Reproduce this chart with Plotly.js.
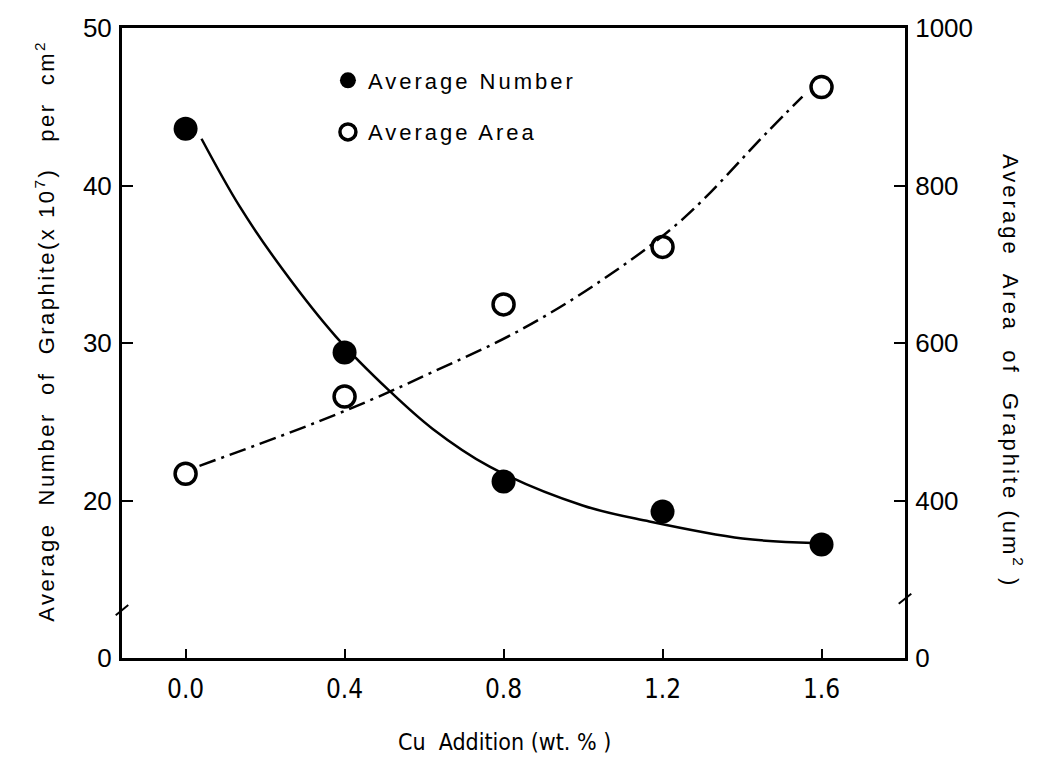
<!DOCTYPE html>
<html>
<head>
<meta charset="utf-8">
<script src="https://cdn.plot.ly/plotly-3.0.1.min.js"></script>
<style>html,body{margin:0;padding:0;background:#fff;}#chart{width:1039px;height:757px;}</style>
</head>
<body>
<div id="chart"></div>
<script>
// Cu addition (wt. %)
const cuAddition = [0.0, 0.4, 0.8, 1.2, 1.6];
// Average number of graphite (x10^7) per cm^2 (left axis, broken below 20)
const avgNumber = [43.6, 29.4, 21.2, 19.3, 17.2];
// Average area of graphite (um^2) (right axis, broken below 400)
const avgArea = [434, 532, 649, 722, 925];

// Hand-drawn trend curves
const numberCurveX = [0.04, 0.136, 0.244, 0.377, 0.513, 0.621, 0.765, 0.999, 1.167, 1.401, 1.58];
const numberCurveY = [42.97, 38.67, 34.68, 30.44, 26.96, 24.56, 22.15, 19.68, 18.67, 17.59, 17.3];
const areaCurveX = [0.035, 0.287, 0.463, 0.621, 0.833, 1.042, 1.250, 1.462, 1.552];
const areaCurveY = [444, 491, 527, 563, 614, 678, 757, 867, 913];

// Axis tick labels (axes are broken: the bottom tick is labelled 0)
const xTickVals = [0.0, 0.4, 0.8, 1.2, 1.6];
const xTickText = ["0.0", "0.4", "0.8", "1.2", "1.6"];
const yLeftTickVals = [10, 20, 30, 40, 50];
const yLeftTickText = ["0", "20", "30", "40", "50"];
const yRightTickVals = [200, 400, 600, 800, 1000];
const yRightTickText = ["0", "400", "600", "800", "1000"];

const FONT = "Liberation Sans, Arial, sans-serif";
const NARROW = "Liberation Sans Narrow, Arial Narrow, DejaVu Sans Condensed, Liberation Sans, sans-serif";
const sp = (t, px) => '<span style="letter-spacing:' + px + 'px">' + t + '</span>';

const traces = [
  {
    x: numberCurveX, y: numberCurveY, yaxis: 'y', mode: 'lines',
    line: {color: '#000', width: 2.5, shape: 'spline', smoothing: 1},
    showlegend: false, hoverinfo: 'skip'
  },
  {
    x: areaCurveX, y: areaCurveY, yaxis: 'y2', mode: 'lines',
    line: {color: '#000', width: 2.5, shape: 'spline', smoothing: 1, dash: '17px,6px,3px,6px'},
    showlegend: false, hoverinfo: 'skip'
  },
  {
    x: cuAddition, y: avgNumber, yaxis: 'y', mode: 'markers', name: sp('Average Number', 3),
    legendgroup: 'a',
    marker: {symbol: 'circle', size: 24, color: '#000'}
  },
  {
    x: cuAddition, y: avgArea, yaxis: 'y2', mode: 'markers', name: sp('Average Area', 3),
    legendgroup: 'b',
    marker: {symbol: 'circle-open', size: 21, color: '#000', line: {color: '#000', width: 3.5}}
  }
];

const layout = {
  width: 1039, height: 757,
  paper_bgcolor: '#fff', plot_bgcolor: '#fff',
  margin: {l: 122, r: 134, t: 28, b: 99},
  font: {family: FONT, color: '#000', size: 20},
  showlegend: true,
  legend: {
    x: 0.263, y: 0.95, xanchor: 'left', yanchor: 'top',
    bgcolor: 'rgba(0,0,0,0)', borderwidth: 0,
    font: {family: FONT, size: 22, color: '#000'},
    tracegroupgap: 20, traceorder: 'grouped', itemwidth: 30
  },
  xaxis: {
    range: [-0.16, 1.81],
    tickvals: xTickVals, ticktext: xTickText,
    ticks: 'inside', ticklen: 9, tickwidth: 2, tickcolor: '#000',
    showline: true, linewidth: 3, linecolor: '#000', mirror: true,
    showgrid: false, zeroline: false,
    tickfont: {family: NARROW, size: 26},
    ticklabelstandoff: 6
  },
  yaxis: {
    range: [10, 50],
    tickvals: yLeftTickVals, ticktext: yLeftTickText,
    ticks: 'inside', ticklen: 11, tickwidth: 2, tickcolor: '#000',
    showline: true, linewidth: 3, linecolor: '#000',
    showgrid: false, zeroline: false,
    tickfont: {family: FONT, size: 26},
    ticklabelstandoff: 2
  },
  yaxis2: {
    range: [200, 1000], overlaying: 'y', side: 'right',
    tickvals: yRightTickVals, ticktext: yRightTickText,
    ticks: 'inside', ticklen: 11, tickwidth: 2, tickcolor: '#000',
    showline: true, linewidth: 3, linecolor: '#000',
    showgrid: false, zeroline: false,
    tickfont: {family: FONT, size: 26},
    ticklabelstandoff: 2
  },
  annotations: [
    {
      xref: 'paper', yref: 'paper', x: -0.098, y: 0.52, textangle: -90,
      showarrow: false, xanchor: 'center', yanchor: 'middle',
      text: sp('Average  Number  of  Graphite(x 10<sup>7</sup>)   per  cm<sup>2</sup>', 2.5),
      font: {family: FONT, size: 22, color: '#000'}
    },
    {
      xref: 'paper', yref: 'paper', x: 1.137, y: 0.455, textangle: 90,
      showarrow: false, xanchor: 'center', yanchor: 'middle',
      text: sp('Average  Area  of  Graphite (um<sup>2</sup> )', 3),
      font: {family: FONT, size: 22, color: '#000'}
    },
    {
      xref: 'paper', yref: 'paper', x: 0.489, y: -0.133,
      showarrow: false, xanchor: 'center', yanchor: 'middle',
      text: 'Cu  Addition (wt. % )',
      font: {family: NARROW, size: 23, color: '#000'}
    }
  ],
  shapes: [
    {type: 'line', xref: 'paper', yref: 'paper', x0: -0.008, x1: 0.008, y0: 0.068, y1: 0.084, line: {color: '#000', width: 2}},
    {type: 'line', xref: 'paper', yref: 'paper', x0: 0.992, x1: 1.008, y0: 0.086, y1: 0.102, line: {color: '#000', width: 2}}
  ]
};

Plotly.newPlot('chart', traces, layout, {staticPlot: true, displayModeBar: false});
</script>
</body>
</html>
